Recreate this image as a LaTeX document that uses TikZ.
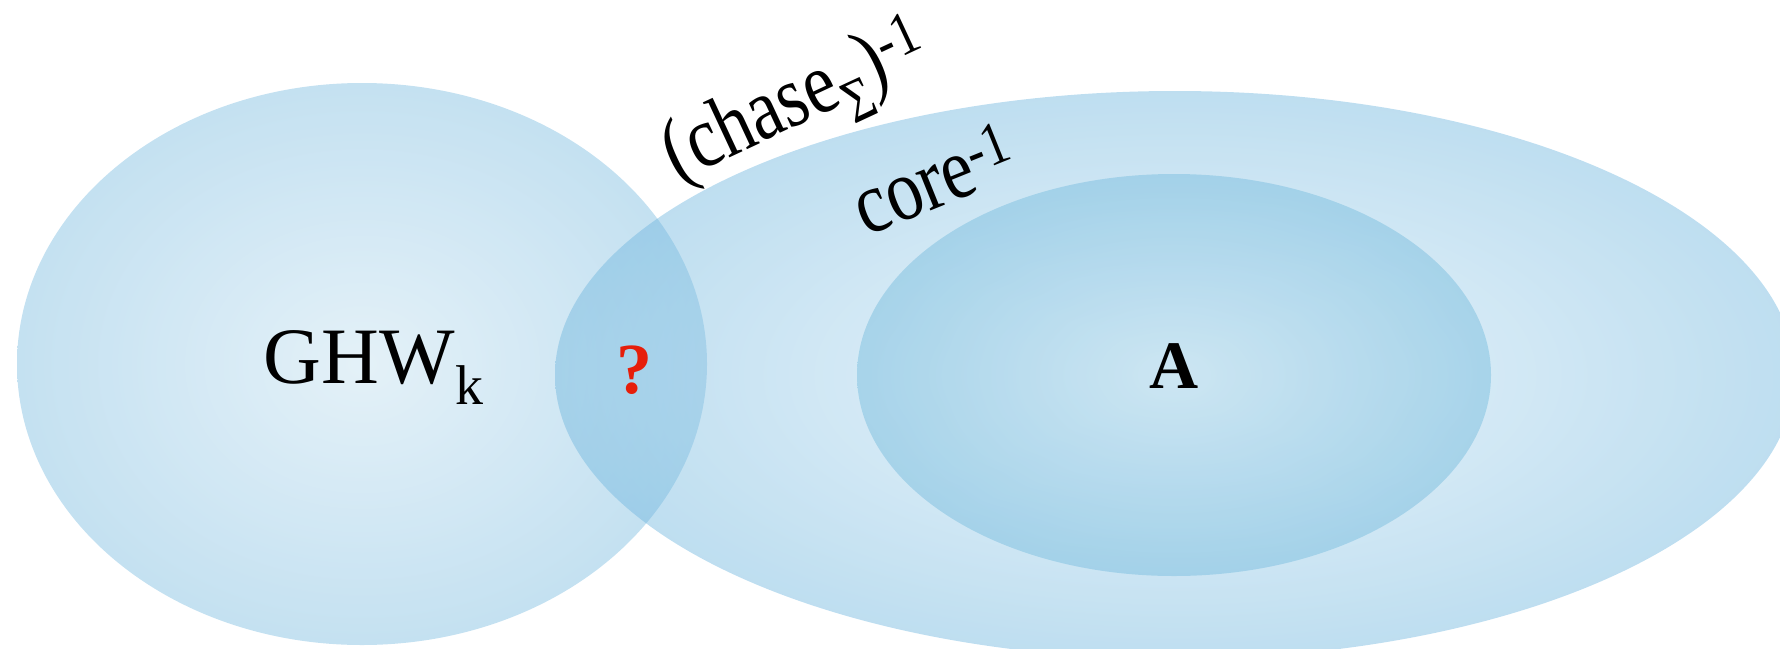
\documentclass[tikz,border=0pt]{standalone}
\usepackage{fontspec}
\usepackage{graphicx}
\setmainfont{Liberation Serif}
\definecolor{lin}{RGB}{195,224,239}
\definecolor{lout}{RGB}{124,188,224}
\definecolor{bin}{RGB}{208,231,244}
\definecolor{bout}{RGB}{111,182,222}
\definecolor{iin}{RGB}{170,213,234}
\definecolor{iout}{RGB}{114,186,221}
\definecolor{qred}{RGB}{230,30,10}
\begin{document}
\begin{tikzpicture}[x=0.5pt,y=-0.5pt,
  setfill/.style={fill opacity=0.45},
  biglbl/.style={font=\fontsize{40}{48}\selectfont, inner sep=0pt},
  arclbl/.style={font=\fontsize{44}{52}\selectfont, inner sep=0pt, anchor=base west}]
\useasboundingbox (0,0) rectangle (1780,648);
\clip (0,0) rectangle (1780,648);
\shade[setfill, inner color=lin, outer color=lout] (362,364) ellipse [x radius=172.5pt, y radius=140.5pt];
\shade[setfill, inner color=bin, outer color=bout] (1175,375) ellipse [x radius=310pt, y radius=142pt];
\shade[setfill, inner color=iin, outer color=iout] (1174,375) ellipse [x radius=158.5pt, y radius=100.5pt];
\node[biglbl, anchor=base] (ghw) at (374,383) {GHW\textsubscript{k}};
\node[inner sep=0pt, anchor=base, font=\fontsize{34}{40}\selectfont\bfseries] (a) at (1174,388) {A};
\node[inner sep=0pt, anchor=base, text=qred, font=\fontsize{36}{44}\selectfont\bfseries] (q) at (634,393) {?};
\node[arclbl, rotate=25] (chase) at (677,182) {\scalebox{0.82}[1]{(chase\textsubscript{Σ})\textsuperscript{-1}}};
\node[arclbl, rotate=22] (core) at (866,237) {\scalebox{0.82}[1]{core\textsuperscript{-1}}};
\end{tikzpicture}
\end{document}
